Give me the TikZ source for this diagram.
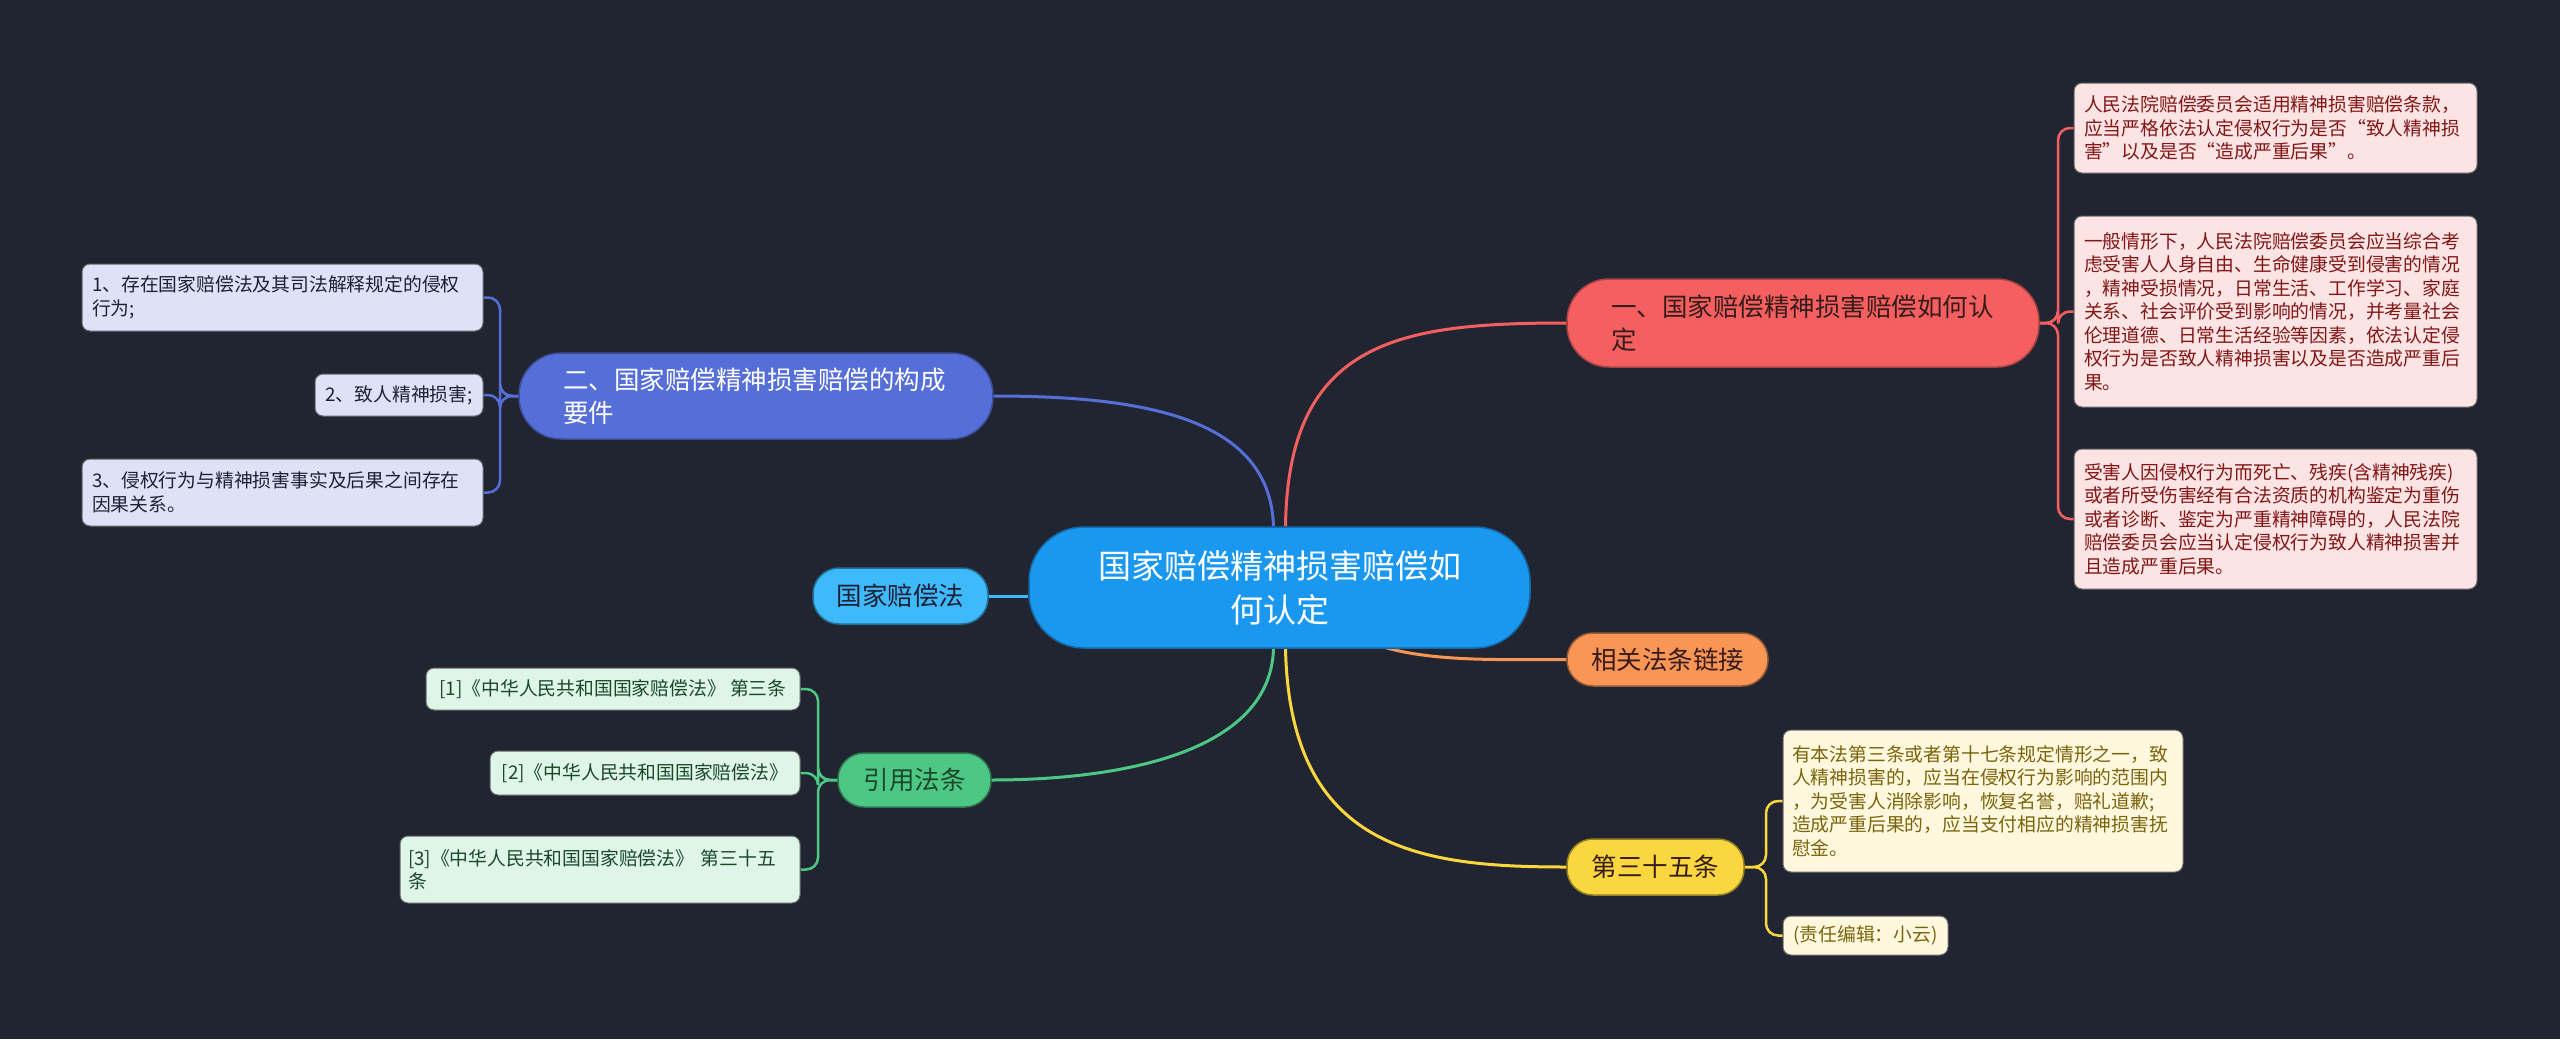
\documentclass[tikz,border=0pt]{standalone}
\usepackage{fontspec}
\setmainfont{Noto Sans CJK SC}
\definecolor{bgc}{RGB}{33,37,49}
\definecolor{cfill}{RGB}{26,152,240}
\definecolor{redf}{RGB}{245,95,95}
\definecolor{oraf}{RGB}{250,150,85}
\definecolor{yelf}{RGB}{250,215,62}
\definecolor{purf}{RGB}{86,110,215}
\definecolor{lbf}{RGB}{62,185,250}
\definecolor{grf}{RGB}{76,200,132}
\definecolor{pinkl}{RGB}{253,228,228}
\definecolor{lavl}{RGB}{222,226,248}
\definecolor{mintl}{RGB}{222,245,231}
\definecolor{creaml}{RGB}{255,248,222}
\definecolor{pinkt}{RGB}{130,22,22}
\definecolor{lavt}{RGB}{30,32,55}
\definecolor{mintt}{RGB}{28,72,42}
\definecolor{creamt}{RGB}{122,100,12}
\definecolor{darkt}{RGB}{55,28,28}
\pgfdeclarelayer{bg}
\pgfsetlayers{bg,main}
\tikzset{
  central/.style={fill=cfill, draw=cfill!70!black, line width=1.5pt, rounded corners=55pt, inner sep=0pt,
    align=center, text=white, font=\fontsize{33}{44}\selectfont},
  branch/.style={line width=1.5pt, rounded corners=26pt, inner sep=0pt, align=center,
    font=\fontsize{25.5}{33}\selectfont},
  bigbranch/.style={line width=1.5pt, rounded corners=42pt, inner sep=0pt, align=left,
    font=\fontsize{25.5}{33}\selectfont},
  leaf/.style={rounded corners=8pt, inner sep=0pt, align=left, draw=black!60, line width=1pt,
    font=\fontsize{18.8}{23.5}\selectfont},
  leafc/.style={rounded corners=8pt, inner sep=0pt, align=center, draw=black!60, line width=1pt,
    font=\fontsize{18.8}{23.5}\selectfont},
  conn/.style={line width=3pt},
  brk/.style={line width=2.5pt, rounded corners=12pt},
}
\begin{document}
\begin{tikzpicture}[x=1pt,y=-1pt]
\begin{pgfonlayer}{bg}
\fill[bgc] (0,0) rectangle (2560,1039);
\end{pgfonlayer}
\useasboundingbox (0,0) rectangle (2560,1039);

% central
\node[central, minimum width=501pt, minimum height=121pt] (c) at (1279.5,587.5)
  {国家赔偿精神损害赔偿如\\何认定};

% branches
\node[bigbranch, fill=redf, draw=redf!70!black, text=darkt, minimum width=472pt, minimum height=88pt, text width=384pt] (red) at (1803,323)
  {一、国家赔偿精神损害赔偿如何认\\定};
\node[bigbranch, fill=purf, draw=purf!70!black, text=white, minimum width=474pt, minimum height=86pt, text width=386pt] (pur) at (756,396)
  {二、国家赔偿精神损害赔偿的构成\\要件};
\node[branch, fill=oraf, draw=oraf!60!black, text=darkt, minimum width=201pt, minimum height=53pt] (ora) at (1667.5,659.5)
  {相关法条链接};
\node[branch, fill=yelf, draw=yelf!60!black, text=darkt, minimum width=177pt, minimum height=56pt] (yel) at (1655.5,867)
  {第三十五条};
\node[branch, fill=lbf, draw=lbf!60!black, text=lavt, minimum width=175pt, minimum height=56pt] (lb) at (900.5,596)
  {国家赔偿法};
\node[branch, fill=grf, draw=grf!60!black, text=mintt, minimum width=153pt, minimum height=54pt] (gr) at (914.5,780)
  {引用法条};

% right leaves
\node[leaf, fill=pinkl, text=pinkt, minimum width=403pt, minimum height=90pt, text width=383pt] (r1) at (2275.5,128)
  {人民法院赔偿委员会适用精神损害赔偿条款，\\应当严格依法认定侵权行为是否“致人精神损\\害”以及是否“造成严重后果”。};
\node[leaf, fill=pinkl, text=pinkt, minimum width=403pt, minimum height=191pt, text width=383pt] (r2) at (2275.5,311.5)
  {一般情形下，人民法院赔偿委员会应当综合考\\虑受害人人身自由、生命健康受到侵害的情况\\，精神受损情况，日常生活、工作学习、家庭\\关系、社会评价受到影响的情况，并考量社会\\伦理道德、日常生活经验等因素，依法认定侵\\权行为是否致人精神损害以及是否造成严重后\\果。};
\node[leaf, fill=pinkl, text=pinkt, minimum width=403pt, minimum height=140pt, text width=383pt] (r3) at (2275.5,519)
  {受害人因侵权行为而死亡、残疾(含精神残疾)\\或者所受伤害经有合法资质的机构鉴定为重伤\\或者诊断、鉴定为严重精神障碍的，人民法院\\赔偿委员会应当认定侵权行为致人精神损害并\\且造成严重后果。};

% left leaves
\node[leaf, fill=lavl, text=lavt, minimum width=401pt, minimum height=67pt, text width=381pt] (l1) at (282.5,297.5)
  {1、存在国家赔偿法及其司法解释规定的侵权\\行为;};
\node[leafc, fill=lavl, text=lavt, minimum width=168pt, minimum height=42pt] (l2) at (399,395)
  {2、致人精神损害;};
\node[leaf, fill=lavl, text=lavt, minimum width=401pt, minimum height=67pt, text width=381pt] (l3) at (282.5,492.5)
  {3、侵权行为与精神损害事实及后果之间存在\\因果关系。};

% citation leaves
\node[leafc, fill=mintl, text=mintt, minimum width=374pt, minimum height=42pt] (c1) at (613,689)
  {[1]《中华人民共和国国家赔偿法》 第三条};
\node[leafc, fill=mintl, text=mintt, minimum width=310pt, minimum height=44pt] (c2) at (645,773)
  {[2]《中华人民共和国国家赔偿法》};
\node[leaf, fill=mintl, text=mintt, minimum width=400pt, minimum height=67pt, text width=384pt] (c3) at (600,869.5)
  {[3]《中华人民共和国国家赔偿法》 第三十五\\条};

% yellow leaves
\node[leaf, fill=creaml, text=creamt, minimum width=400pt, minimum height=142pt, text width=382pt] (y1) at (1983,801)
  {有本法第三条或者第十七条规定情形之一，致\\人精神损害的，应当在侵权行为影响的范围内\\，为受害人消除影响，恢复名誉，赔礼道歉;\\造成严重后果的，应当支付相应的精神损害抚\\慰金。};
\node[leafc, fill=creaml, text=creamt, minimum width=165pt, minimum height=39pt] (y2) at (1865.5,935.5)
  {(责任编辑：小云)};

% junctions
\coordinate (jr) at (2058,323);
\coordinate (jp) at (500,396);
\coordinate (jg) at (818,780);
\coordinate (jy) at (1766,867);

\begin{pgfonlayer}{bg}
% main connectors
\draw[conn, draw=redf] ([xshift=6pt]c.north) .. controls (1288,340) and (1400,323) .. (red.west);
\draw[conn, draw=purf] ([xshift=-6pt]c.north) .. controls (1270,420) and (1150,396) .. (pur.east);
\draw[conn, draw=lbf] (lb.east) -- (lb.east -| c.west);
\draw[conn, draw=grf] ([xshift=-6pt]c.south) .. controls (1270,760) and (1100,780) .. (gr.east);
\draw[conn, draw=oraf] ([xshift=100pt,yshift=3pt]c.south) .. controls (1430,662) and (1500,659.5) .. (ora.west);
\draw[conn, draw=yelf] ([xshift=6pt]c.south) .. controls (1290,850) and (1420,867) .. (yel.west);
% brackets
\draw[brk, draw=redf] (red.east) -- (jr) |- (r1.west);
\draw[brk, draw=redf] (red.east) -- (jr) |- (r2.west);
\draw[brk, draw=redf] (red.east) -- (jr) |- (r3.west);
\draw[brk, draw=purf] (pur.west) -- (jp) |- (l1.east);
\draw[brk, draw=purf] (pur.west) -- (jp) |- (l2.east);
\draw[brk, draw=purf] (pur.west) -- (jp) |- (l3.east);
\draw[brk, draw=grf] (gr.west) -- (jg) |- (c1.east);
\draw[brk, draw=grf] (gr.west) -- (jg) |- (c2.east);
\draw[brk, draw=grf] (gr.west) -- (jg) |- (c3.east);
\draw[brk, draw=yelf] (yel.east) -- (jy) |- (y1.west);
\draw[brk, draw=yelf] (yel.east) -- (jy) |- (y2.west);
\end{pgfonlayer}
\end{tikzpicture}
\end{document}
